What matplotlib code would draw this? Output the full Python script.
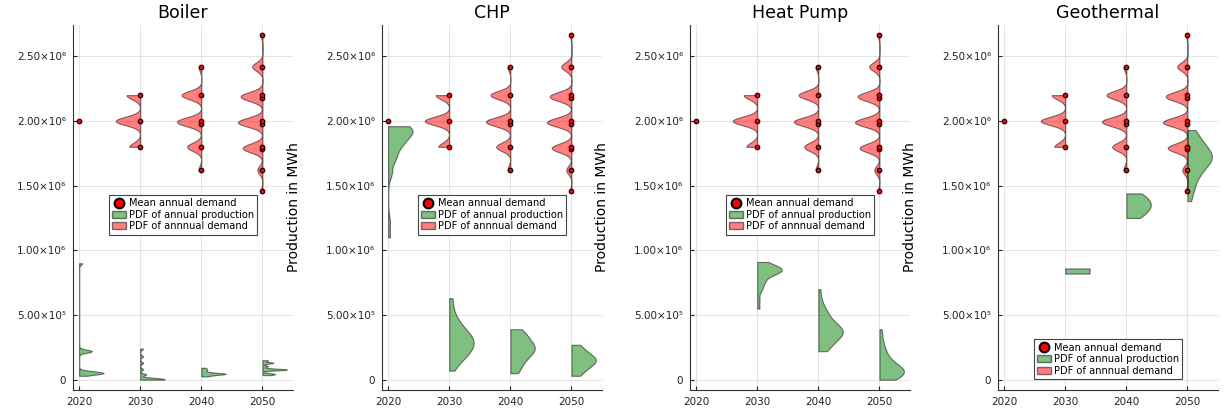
import numpy as np
import matplotlib
matplotlib.use("Agg")
import matplotlib.pyplot as plt
from matplotlib.lines import Line2D
from matplotlib.patches import Patch

years = [2020, 2030, 2040, 2050]
techs = ["Boiler", "CHP", "Heat Pump", "Geothermal"]

# demand scenarios (1e6 MWh) and how often each one occurs
demand_vals = [
    [2.0],
    [1.8, 2.0, 2.2],
    [1.62, 1.8, 1.98, 2.0, 2.2, 2.42],
    [1.458, 1.62, 1.782, 1.8, 1.98, 2.0, 2.178, 2.2, 2.42, 2.662],
]
demand_counts = [
    [1],
    [4, 9, 5],
    [1, 5, 3, 6, 7, 1],
    [1, 4, 8, 8, 10, 10, 9, 9, 8, 1],
]

# production samples (1e6 MWh) per technology and year
boiler_vals = [
    [0.03, 0.05, 0.06, 0.22, 0.9],
    [0.0, 0.01, 0.04, 0.08, 0.13, 0.18, 0.24],
    [0.025, 0.035, 0.045, 0.055, 0.07, 0.08, 0.092],
    [0.035, 0.045, 0.077, 0.085, 0.105, 0.13, 0.15],
]
boiler_counts = [
    [1, 6, 2, 4, 1],
    [6, 4, 2, 1, 1, 1, 1],
    [1, 2, 5, 2, 1, 1, 1],
    [1, 2, 4, 1, 1, 2, 1],
]
boiler_bw = [0.012, 0.008, 0.006, 0.006]

chp_vals = [
    [1.10, 1.22, 1.60, 1.72, 1.82, 1.90, 1.96],
    [0.07, 0.15, 0.22, 0.29, 0.36, 0.45, 0.55, 0.63],
    [0.05, 0.12, 0.19, 0.24, 0.29, 0.35, 0.39],
    [0.03, 0.08, 0.13, 0.17, 0.22, 0.27],
]
chp_counts = [
    [1, 1, 2, 4, 6, 8, 8],
    [1, 3, 5, 6, 5, 3, 1, 1],
    [2, 3, 4, 5, 4, 3, 2],
    [2, 3, 5, 5, 3, 2],
]
chp_bw = [0.05, 0.06, 0.05, 0.04]

hp_vals = [
    [],
    [0.55, 0.62, 0.70, 0.76, 0.82, 0.85, 0.88, 0.91],
    [0.22, 0.28, 0.34, 0.38, 0.43, 0.50, 0.56, 0.62, 0.70],
    [0.0, 0.04, 0.08, 0.12, 0.18, 0.25, 0.32, 0.39],
]
hp_counts = [
    [],
    [1, 1, 2, 3, 5, 6, 4, 2],
    [3, 5, 7, 7, 6, 4, 2, 1, 1],
    [4, 6, 6, 4, 3, 2, 1, 1],
]
hp_bw = [0.0, 0.03, 0.05, 0.045]

geo_vals = [
    [],
    [0.82, 0.83, 0.84, 0.85, 0.86],
    [1.25, 1.30, 1.35, 1.40, 1.44],
    [1.38, 1.48, 1.58, 1.66, 1.72, 1.78, 1.85, 1.93],
]
geo_counts = [
    [],
    [1, 1, 1, 1, 1],
    [1, 2, 2, 2, 1],
    [1, 2, 3, 4, 5, 4, 3, 2],
]
geo_bw = [0.0, 0.2, 0.06, 0.06]

prod_vals = [boiler_vals, chp_vals, hp_vals, geo_vals]
prod_counts = [boiler_counts, chp_counts, hp_counts, geo_counts]
prod_bw = [boiler_bw, chp_bw, hp_bw, geo_bw]

RED = (1, 0, 0, 0.5)
GREEN = (0, 0.5, 0, 0.5)
EDGE = (0, 0, 0, 0.5)


def half_violin(ax, pos, vals, counts, bw, side, color):
    if len(vals) < 2:
        return
    data = np.repeat(np.array(vals) * 1e6, counts)
    factor = bw * 1e6 / data.std(ddof=1)
    parts = ax.violinplot([data], positions=[pos], widths=8, side=side,
                          showextrema=False, bw_method=factor, points=500)
    for b in parts["bodies"]:
        b.set_alpha(None)
        b.set_facecolor(color)
        b.set_edgecolor(EDGE)
        b.set_linewidth(0.8)


fig = plt.figure(figsize=(12.25, 4.17), dpi=100)
lefts = [73, 382, 690, 998]
W, H = 1225, 417
yticks = [0, 0.5e6, 1.0e6, 1.5e6, 2.0e6, 2.5e6]
ylabels = ["0", "5.00×10⁵", "1.00×10⁶", "1.50×10⁶", "2.00×10⁶", "2.50×10⁶"]

for i, tech in enumerate(techs):
    ax = fig.add_axes([lefts[i] / W, 27 / H, 220 / W, 365 / H])
    for j, yr in enumerate(years):
        half_violin(ax, yr, prod_vals[i][j], prod_counts[i][j], prod_bw[i][j], "high", GREEN)
    for j, yr in enumerate(years):
        half_violin(ax, yr, demand_vals[j], demand_counts[j], 0.033, "low", RED)
    for j, yr in enumerate(years):
        ax.plot([yr] * len(demand_vals[j]), np.array(demand_vals[j]) * 1e6, "o",
                color="red", markeredgecolor="black", markersize=3.3,
                markeredgewidth=0.8, zorder=5)

    ax.set_xlim(2019, 2055)
    ax.set_ylim(-0.0799e6, 2.742e6)
    ax.set_xticks(years)
    ax.set_yticks(yticks)
    ax.set_yticklabels(ylabels)
    ax.tick_params(direction="in", length=3, labelsize=7.5, colors="#222222", pad=5)
    ax.grid(True, color="black", alpha=0.1, linewidth=0.8)
    ax.set_axisbelow(True)
    for s in ["top", "right"]:
        ax.spines[s].set_visible(False)
    for s in ["left", "bottom"]:
        ax.spines[s].set_color("#333333")
    ax.set_title(tech, fontsize=12.5, pad=5)
    if i > 0:
        ax.set_ylabel("Production in MWh", fontsize=10)
        ax.yaxis.set_label_coords(-0.37, 0.5)

    handles = [
        Line2D([], [], marker="o", linestyle="none", color="red",
               markeredgecolor="black", markersize=7, markeredgewidth=1.5),
        Patch(facecolor=GREEN, edgecolor=EDGE),
        Patch(facecolor=RED, edgecolor=EDGE),
    ]
    names = ["Mean annual demand", "PDF of annual production", "PDF of annnual demand"]
    if i == 3:
        loc, anchor = "lower center", (0.5, 0.03)
    else:
        loc, anchor = "center", (0.5, 0.48)
    leg = ax.legend(handles, names, loc=loc, bbox_to_anchor=anchor, fontsize=7.1,
                    fancybox=False, framealpha=1, edgecolor="#444444",
                    handlelength=1.4, handletextpad=0.3, borderpad=0.35,
                    labelspacing=0.15, borderaxespad=0)
    leg.get_frame().set_linewidth(0.8)

fig.savefig("out.png", dpi=100)
